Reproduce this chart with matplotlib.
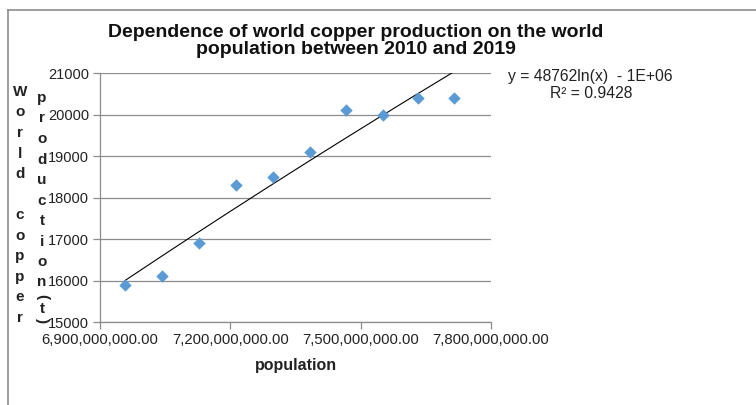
import numpy as np
import matplotlib
matplotlib.use("Agg")
import matplotlib.pyplot as plt
from matplotlib.ticker import FuncFormatter, MultipleLocator

# data
population = [6.957e9, 7.042e9, 7.128e9, 7.213e9, 7.298e9,
              7.383e9, 7.467e9, 7.551e9, 7.633e9, 7.715e9]
copper = [15900, 16100, 16900, 18300, 18500, 19100, 20100, 20000, 20400, 20400]
title = "Dependence of world copper production on the world\npopulation between 2010 and 2019"
xlabel = "population"
ylabel_cols = ["World copper", "production (t)"]
eq_text = "y = 48762ln(x)  - 1E+06"
r2_text = "R\u00b2 = 0.9428"

plt.rcParams['font.family'] = ['Liberation Sans', 'DejaVu Sans']

fig = plt.figure(figsize=(7.56, 4.05), dpi=100)
W, H = 756, 405
ax = fig.add_axes([100 / W, 1 - 322 / H, 391 / W, 249 / H])

ax.scatter(population, copper, marker='D', s=40, color='#5B9BD5', zorder=3, linewidths=0)

# logarithmic trendline fit
x = np.array(population)
y = np.array(copper)
a, b = np.polyfit(np.log(x), y, 1)
xs = np.linspace(x.min(), x.max(), 200)
ax.plot(xs, a * np.log(xs) + b, color='black', lw=0.8, zorder=2)

ax.set_xlim(6.9e9, 7.8e9)
ax.set_ylim(15000, 21000)
ax.xaxis.set_major_locator(MultipleLocator(3e8))
ax.yaxis.set_major_locator(MultipleLocator(1000))
ax.xaxis.set_major_formatter(FuncFormatter(lambda v, p: f"{v:,.2f}"))
ax.yaxis.set_major_formatter(FuncFormatter(lambda v, p: f"{v:.0f}"))
ax.grid(axis='y', color='#8c8c8c', lw=0.9)
ax.set_axisbelow(True)
for s in ['top', 'right']:
    ax.spines[s].set_visible(False)
for s in ['left', 'bottom']:
    ax.spines[s].set_color('#8c8c8c')
    ax.spines[s].set_linewidth(0.9)
ax.tick_params(axis='both', colors='#8c8c8c', length=5, width=0.9, labelcolor='#222222', labelsize=10.5)
ax.tick_params(axis='x', labelsize=10.7, pad=3)
ax.tick_params(axis='y', pad=3)

ax.set_xlabel(xlabel, fontsize=11.5, fontweight='bold', color='#222222', labelpad=8)

fig.text(356 / W, 1 - 41 / H, title, ha='center', va='center', fontsize=14,
         fontweight='bold', color='#111111', linespacing=1.05)

# stacked vertical y label (Excel-style stacked text)
col_x = [20, 42]
col_y0 = [92, 98]
space_step = [20.5, 2.5]
step = 20.5
paren_step = 12
for cx, cy0, sp, text in zip(col_x, col_y0, space_step, ylabel_cols):
    yy = cy0
    prev = None
    for ch in text:
        if ch == ' ':
            yy += sp
            continue
        if prev is not None:
            yy += paren_step if (ch in '()' or prev in '()') else step
        rot = -90 if ch in '()' else 0
        fig.text(cx / W, 1 - yy / H, ch, ha='center', va='center', fontsize=11,
                 fontweight='bold', color='#222222', rotation=rot)
        prev = ch

fig.text(590 / W, 1 - 76 / H, eq_text, ha='center', va='center', fontsize=11.3, color='#222222')
fig.text(591 / W, 1 - 93 / H, r2_text, ha='center', va='center', fontsize=11.3, color='#222222')

# chart-area border (top and left visible)
fig.add_artist(plt.Line2D([8 / W, 1], [1 - 10 / H, 1 - 10 / H], color='#8c8c8c', lw=1.2))
fig.add_artist(plt.Line2D([8 / W, 8 / W], [1 - 10 / H, 0], color='#8c8c8c', lw=1.2))

fig.savefig("out.png", dpi=100)
